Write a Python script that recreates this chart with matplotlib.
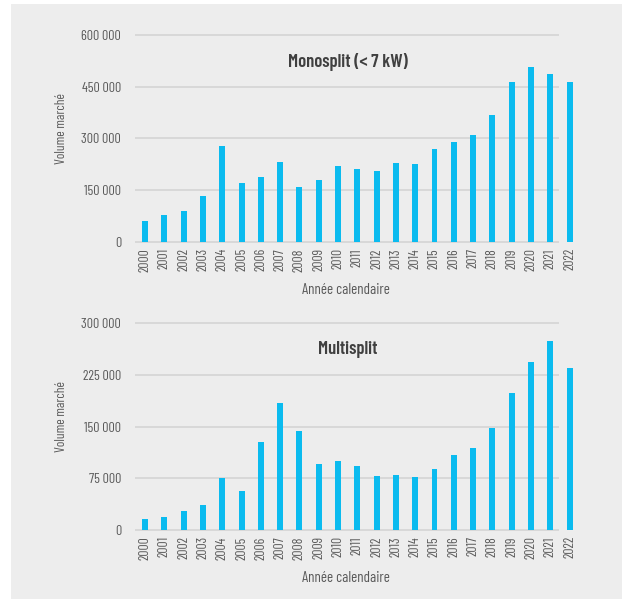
import math
import matplotlib
matplotlib.use("Agg")
import matplotlib.pyplot as plt
from matplotlib import font_manager
from matplotlib.font_manager import FontProperties
from matplotlib.textpath import TextPath
from matplotlib.patches import Rectangle
import numpy as np

years = [str(y) for y in range(2000, 2023)]
mono_values = [61000, 79000, 91000, 133000, 277000, 171000, 188000, 233000, 159000, 179000,
               220000, 211000, 205000, 229000, 226000, 269000, 291000, 309000, 368000, 464000,
               507000, 487000, 463000]
multi_values = [16000, 19000, 27000, 36000, 75000, 57000, 127000, 184000, 144000, 96000,
                100000, 93000, 78000, 79000, 77000, 89000, 108000, 119000, 148000, 198000,
                243000, 274000, 235000]
mono_ticks = [0, 150000, 300000, 450000, 600000]
multi_ticks = [0, 75000, 150000, 225000, 300000]
titles = ["Monosplit (< 7 kW)", "Multisplit"]
xlabel = "Année calendaire"
ylabel = "Volume marché"

PX = 100 / 72.0  # pixels per point


def wt(f):
    w = f.weight
    if isinstance(w, str):
        return {"normal": 400, "regular": 400, "book": 400, "medium": 500,
                "semibold": 600, "demibold": 600, "bold": 700, "heavy": 800,
                "black": 900, "light": 300}.get(w, 400)
    return int(w)


def is_cond(f):
    return ("Condensed" in f.fname or "Narrow" in f.fname or "Cond" in f.fname
            or "Narrow" in f.name or "Condensed" in f.name)


def measure(fname, s):
    tp = TextPath((0, 0), s, prop=FontProperties(fname=fname, size=10))
    e = tp.get_extents()
    return e.width, e.height


cands = []
seen = set()
for f in font_manager.fontManager.ttflist:
    if f.fname in seen or f.style != "normal" or not is_cond(f):
        continue
    if "Mono" in f.name or f.fname.endswith(".ttc"):
        continue
    seen.add(f.fname)
    cands.append(f)
cands = cands[:40]


def pick(lo, hi):
    best, best_r = None, 1e9
    for f in cands:
        if not (lo <= wt(f) <= hi):
            continue
        try:
            w, _ = measure(f.fname, "000")
            _, h = measure(f.fname, "H")
            r = w / h
        except Exception:
            continue
        if r < best_r:
            best, best_r = f.fname, r
    return best


reg_file = pick(350, 450)
bold_file = pick(600, 750)


def sized(fname, text, target_w, target_h, fallback_family, weight="normal", size=9):
    if fname is None:
        return FontProperties(family=fallback_family, weight=weight, size=size)
    w10, _ = measure(fname, text)
    _, h10 = measure(fname, "H")
    s_w = 10 * target_w / (w10 * PX)
    s_h = 10 * target_h / (h10 * PX)
    s = min(math.sqrt(s_w * s_h), s_h)
    return FontProperties(fname=fname, size=s)


ytick_fp = sized(reg_file, "600 000", 37, 10, "DejaVu Sans", size=8)
xtick_fp = sized(reg_file, "2000", 23, 9.5, "DejaVu Sans", size=8)
xlab_fp = sized(reg_file, xlabel, 88, 10.5, "DejaVu Sans", size=9)
ylab_fp = sized(reg_file, ylabel, 69, 9.5, "DejaVu Sans", size=8)
title_fp = sized(bold_file, titles[0], 128, 13, "DejaVu Sans", "bold", size=10.5)

W, H = 630, 599
fig = plt.figure(figsize=(W / 100, H / 100), dpi=100)
fig.patch.set_facecolor("white")
bg = Rectangle((11 / W, 0), (622 - 11) / W, (599 - 4) / H,
               transform=fig.transFigure, facecolor="#ededed",
               edgecolor="none", zorder=-10)
fig.add_artist(bg)

bar_color = "#0bbbef"
grid_color = "#d6d6d6"
text_color = "#595959"


def fmt(v):
    return f"{v:,}".replace(",", " ")


def make(ax, vals, ticks, title):
    x = np.arange(len(years))
    ax.set_facecolor("none")
    for s in ax.spines.values():
        s.set_visible(False)
    ax.set_xlim(-0.52, 22.54)
    ax.set_ylim(0, ticks[-1])
    ax.hlines(ticks, -0.52, 21.47, colors=grid_color, linewidth=1.3, zorder=1,
              clip_on=False)
    ax.bar(x, vals, width=0.31, color=bar_color, zorder=2)
    ax.set_xticks(x)
    ax.set_xticklabels(years, rotation=90, fontproperties=xtick_fp, color=text_color)
    ax.set_yticks(ticks)
    ax.set_yticklabels([fmt(t) for t in ticks], fontproperties=ytick_fp, color=text_color)
    ax.tick_params(axis="both", length=0)
    ax.tick_params(axis="y", pad=10)
    ax.tick_params(axis="x", pad=4.5)
    ax.set_xlabel(xlabel, fontproperties=xlab_fp, color=text_color)
    ax.xaxis.set_label_coords(0.475, -0.2)
    ax.set_ylabel(ylabel, fontproperties=ylab_fp, color=text_color)
    ax.yaxis.set_label_coords(-0.15, 0.55)
    ax.text(0.478, 0.87, title, transform=ax.transAxes, ha="center", va="center",
            fontproperties=title_fp, color="#404040")


left = 135 / W
width = 445 / W
h = 207 / H
ax1 = fig.add_axes([left, 1 - 242 / H, width, h])
ax2 = fig.add_axes([left, 1 - 530 / H, width, h])
make(ax1, mono_values, mono_ticks, titles[0])
make(ax2, multi_values, multi_ticks, titles[1])

fig.savefig("out.png", dpi=100)
